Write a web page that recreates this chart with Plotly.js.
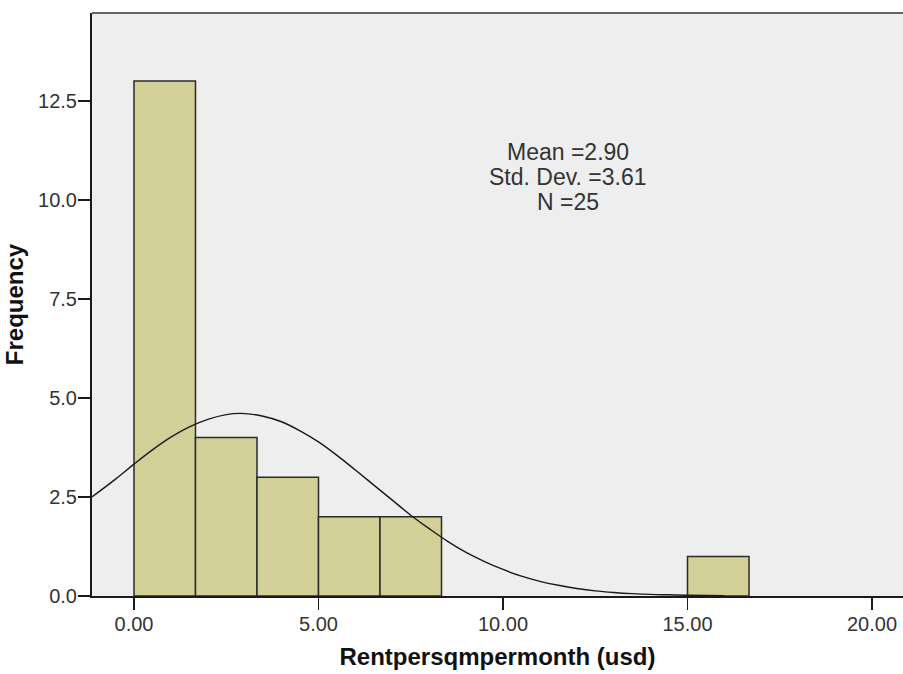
<!DOCTYPE html>
<html>
<head>
<meta charset="utf-8">
<script src="https://cdn.plot.ly/plotly-3.0.1.min.js"></script>
<style>
  html, body { margin: 0; padding: 0; background: #ffffff; }
  #chart { width: 903px; height: 674px; }
</style>
</head>
<body>
<div id="chart"></div>
<script>
// Histogram bins (bin width = 5/3 usd)
const binStarts = [0, 1.6667, 3.3333, 5.0, 6.6667, 15.0];
const binWidth = 1.6667;
const frequencies = [13, 4, 3, 2, 2, 1];

// Fitted normal curve
const curveX = [-1.14, -0.5, 0, 0.5, 1, 1.5, 2, 2.5, 2.9, 3.5, 4, 4.5, 5, 5.5, 6, 6.5, 7, 7.5, 8, 8.5, 9, 9.5, 10, 10.5, 11, 11.5, 12, 12.5, 13, 13.5, 14, 14.5, 15, 16];
const curveY = [2.50, 2.95, 3.33, 3.69, 4.01, 4.27, 4.46, 4.58, 4.61, 4.54, 4.40, 4.17, 3.89, 3.55, 3.18, 2.80, 2.42, 2.04, 1.70, 1.38, 1.10, 0.87, 0.67, 0.50, 0.37, 0.27, 0.19, 0.13, 0.09, 0.06, 0.04, 0.03, 0.02, 0.01];

// Summary statistics text
const statLines = ["Mean =2.90", "Std. Dev. =3.61", "N =25"];

const xTickVals = [0, 5, 10, 15, 20];
const xTickText = ["0.00", "5.00", "10.00", "15.00", "20.00"];
const yTickVals = [0, 2.5, 5, 7.5, 10, 12.5];
const yTickText = ["0.0", "2.5", "5.0", "7.5", "10.0", "12.5"];

const FONT = '"Liberation Sans", Arial, sans-serif';

const bars = {
  type: 'bar',
  x: binStarts.map(s => s + binWidth / 2),
  y: frequencies,
  width: binStarts.map(() => binWidth),
  marker: { color: '#d3cf98', line: { color: '#2b2b2b', width: 1.5 } },
  hoverinfo: 'x+y',
  showlegend: false
};

const curve = {
  type: 'scatter',
  mode: 'lines',
  x: curveX,
  y: curveY,
  line: { color: '#1a1a1a', width: 1.4, shape: 'spline' },
  hoverinfo: 'skip',
  showlegend: false
};

const annY = [11.21, 10.58, 9.95];
const annotations = statLines.map((t, i) => ({
  x: 11.76, y: annY[i], xref: 'x', yref: 'y',
  text: t, showarrow: false,
  font: { family: FONT, size: 23, color: '#333333' },
  xanchor: 'center', yanchor: 'middle'
}));

const layout = {
  width: 903, height: 674,
  margin: { l: 92, r: 0, t: 13, b: 78, pad: 0 },
  paper_bgcolor: '#ffffff',
  plot_bgcolor: '#eeeeee',
  bargap: 0,
  font: { family: FONT, color: '#333333' },
  xaxis: {
    range: [-1.138, 20.84],
    tickvals: xTickVals, ticktext: xTickText,
    ticks: 'outside', ticklen: 12, tickwidth: 1.5, tickcolor: '#1a1a1a',
    tickfont: { family: FONT, size: 20, color: '#333333' },
    ticklabelstandoff: -3,
    showgrid: false, zeroline: false,
    showline: true, linecolor: '#1a1a1a', linewidth: 2,
    title: { text: 'Rentpersqmpermonth (usd)', font: { family: FONT, size: 24, color: '#111111', weight: 'bold' }, standoff: 14 }
  },
  yaxis: {
    range: [0, 14.72],
    tickvals: yTickVals, ticktext: yTickText,
    ticks: 'outside', ticklen: 12, tickwidth: 1.5, tickcolor: '#1a1a1a',
    tickfont: { family: FONT, size: 20, color: '#333333' },
    ticklabelstandoff: -3,
    showgrid: false, zeroline: false,
    showline: true, linecolor: '#1a1a1a', linewidth: 2,
    title: { text: 'Frequency', font: { family: FONT, size: 24, color: '#111111', weight: 'bold' }, standoff: 8 }
  },
  shapes: [
    { type: 'line', xref: 'paper', yref: 'paper', x0: 0, x1: 1, y0: 1, y1: 1,
      line: { color: '#666666', width: 2 } }
  ],
  annotations: annotations
};

Plotly.newPlot('chart', [bars, curve], layout, { displayModeBar: false, staticPlot: true });
</script>
</body>
</html>
